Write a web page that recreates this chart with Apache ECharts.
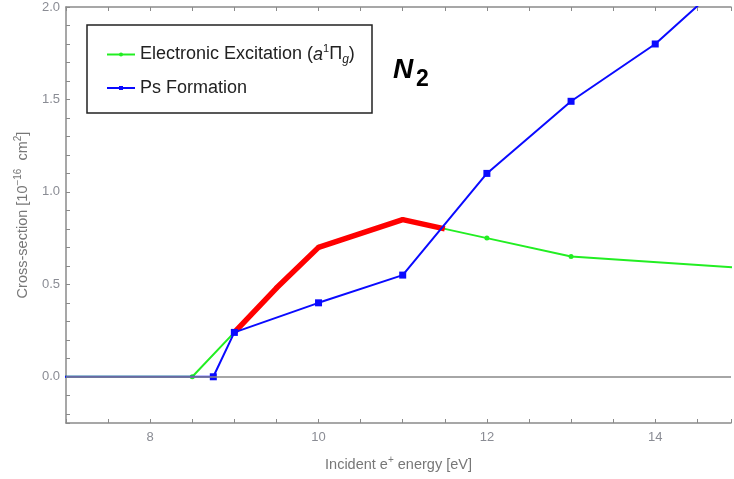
<!DOCTYPE html>
<html>
<head>
<meta charset="utf-8">
<script src="https://cdn.jsdelivr.net/npm/echarts@6/dist/echarts.min.js"></script>
<style>
html, body { margin: 0; padding: 0; background: #fff; }
#main { width: 734px; height: 479px; }
</style>
</head>
<body>
<div id="main"></div>
<script>
// energies (eV) and cross-sections (1e-16 cm^2)
var excitationX = [6, 8.5, 9, 9.5, 10, 11, 12, 13, 15];
var excitationY = [0, 0, 0.24, 0.48, 0.70, 0.85, 0.75, 0.65, 0.59];
var psX = [6, 8.75, 9, 10, 11, 12, 13, 14, 15];
var psY = [0, 0, 0.24, 0.40, 0.55, 1.10, 1.49, 1.80, 2.21];
// thick red stretch laid over the excitation curve
var redX = [9, 9.5, 10, 11, 11.5];
var redY = [0.24, 0.48, 0.70, 0.85, 0.80];

var excitationName = 'Electronic Excitation';
var psName = 'Ps Formation';

function pairs(xs, ys) {
    var out = [];
    for (var i = 0; i < xs.length; i++) out.push([xs[i], ys[i]]);
    return out;
}

var font = 'Liberation Sans, Arial, sans-serif';
var frameColor = '#8a8a8a';
var labelColor = '#8a8c94';
var nameColor = '#777';

var myChart = echarts.init(document.getElementById('main'));

var xBase = {
    type: 'value',
    min: 7,
    max: 14.9,
    interval: 0.5,
    splitLine: { show: false },
    axisLine: { onZero: false, lineStyle: { color: frameColor, width: 1.5 } },
    axisTick: { inside: true, length: 4, lineStyle: { color: frameColor } }
};

var nameRich = {
    t: { fontSize: 14.5, color: nameColor, fontFamily: font, lineHeight: 20 },
    sup: { fontSize: 10, color: nameColor, fontFamily: font, verticalAlign: 'top', lineHeight: 20 }
};

var option = {
    animation: false,
    textStyle: { fontFamily: font },
    grid: { left: 66, right: 0, top: 7, bottom: 56 },
    xAxis: [
        Object.assign({}, xBase, {
            position: 'bottom',
            name: '{t|Incident e}{sup|+}{t| energy [eV]}',
            nameLocation: 'middle',
            nameGap: 32,
            nameTextStyle: { rich: nameRich },
            axisLabel: {
                color: labelColor,
                fontSize: 13,
                margin: 8,
                fontFamily: font,
                formatter: function (v) {
                    return (Math.abs(v - Math.round(v)) < 1e-6 && Math.round(v) % 2 === 0) ? String(Math.round(v)) : '';
                }
            }
        }),
        Object.assign({}, xBase, {
            position: 'top',
            axisLabel: { show: false }
        })
    ],
    yAxis: [
        {
            // data axis, no decoration of its own
            type: 'value',
            min: -0.25,
            max: 2,
            position: 'left',
            splitLine: { show: false },
            axisLine: { show: false },
            axisTick: { show: false },
            axisLabel: { show: false }
        },
        {
            // mirrored axis so ticks land on multiples of 0.1
            type: 'value',
            inverse: true,
            min: -2,
            max: 0.25,
            interval: 0.1,
            position: 'left',
            splitLine: { show: false },
            axisLine: { onZero: false, lineStyle: { color: frameColor, width: 1.5 } },
            axisTick: { inside: true, length: 4, lineStyle: { color: frameColor } },
            axisLabel: {
                color: labelColor,
                fontSize: 13,
                margin: 6,
                fontFamily: font,
                formatter: function (u) {
                    var v = -u;
                    var h = v * 2;
                    if (Math.abs(h - Math.round(h)) > 1e-6) return '';
                    return (Math.round(h) / 2).toFixed(1);
                }
            },
            name: '{t|Cross-section [10}{sup|\u221216}{t|  cm}{sup|2}{t|]}',
            nameLocation: 'middle',
            nameRotate: 90,
            nameGap: 33,
            nameTextStyle: { rich: nameRich }
        }
    ],
    legend: {
        orient: 'vertical',
        left: 101,
        top: 38,
        itemGap: 13,
        itemWidth: 28,
        itemHeight: 5,
        data: [excitationName, psName],
        textStyle: {
            color: '#222',
            fontSize: 18,
            fontFamily: font,
            rich: {
                t: { fontSize: 18, color: '#222', lineHeight: 23, fontFamily: font },
                i: { fontSize: 18, color: '#222', lineHeight: 23, fontStyle: 'italic', fontFamily: font },
                sup: { fontSize: 11, color: '#222', verticalAlign: 'top', lineHeight: 23, fontFamily: font },
                sub: { fontSize: 12, color: '#222', verticalAlign: 'bottom', lineHeight: 23, fontStyle: 'italic', fontFamily: font }
            }
        },
        formatter: function (name) {
            if (name === excitationName) {
                return '{t|Electronic Excitation (}{i|a}{sup|1}{t|\u03A0}{sub|g}{t|)}';
            }
            return '{t|' + name + '}';
        }
    },
    graphic: [
        {
            type: 'rect',
            z: 3,
            shape: { x: 87, y: 25, width: 285, height: 88 },
            style: { fill: '#fff', stroke: '#222', lineWidth: 1.5 }
        },
        {
            type: 'text',
            z: 5,
            left: 393,
            top: 56,
            style: { text: 'N', fill: '#000', font: 'italic bold 28px ' + font }
        },
        {
            type: 'text',
            z: 5,
            left: 416,
            top: 68,
            style: { text: '2', fill: '#000', font: 'bold 23px ' + font }
        }
    ],
    series: [
        {
            name: excitationName,
            type: 'line',
            z: 2,
            data: pairs(excitationX, excitationY),
            symbol: 'circle',
            symbolSize: 5,
            itemStyle: { color: '#22ee22' },
            lineStyle: { color: '#22ee22', width: 2 },
            markLine: {
                silent: true,
                symbol: 'none',
                label: { show: false },
                lineStyle: { color: '#888', width: 1.5, type: 'solid' },
                data: [{ yAxis: 0 }]
            }
        },
        {
            name: 'highlight',
            type: 'line',
            z: 3,
            data: pairs(redX, redY),
            symbol: 'none',
            lineStyle: { color: '#ff0000', width: 5.5 }
        },
        {
            name: psName,
            type: 'line',
            z: 4,
            data: pairs(psX, psY),
            symbol: 'rect',
            symbolSize: 7,
            itemStyle: { color: '#0a0aff' },
            lineStyle: { color: '#0a0aff', width: 2 }
        }
    ]
};

myChart.setOption(option);
</script>
</body>
</html>
